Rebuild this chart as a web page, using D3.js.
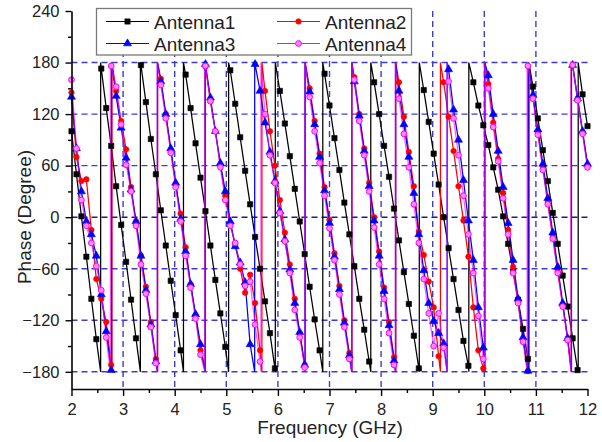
<!DOCTYPE html>
<html><head><meta charset="utf-8">
<script src="https://cdn.jsdelivr.net/npm/d3@7"></script>
<style>
body{margin:0;background:#fff}
svg{display:block}
text{font-family:"Liberation Sans",Arial,Helvetica,sans-serif}
</style>
</head><body>
<svg id="chart" width="602" height="442"></svg>
<script>
// ---------------- data ----------------
const freqs = [
  2.000, 2.096, 2.192, 2.288, 2.385, 2.481, 2.577, 2.673, 2.769, 2.865,
  2.962, 3.058, 3.154, 3.250, 3.346, 3.442, 3.538, 3.635, 3.731, 3.827,
  3.923, 4.019, 4.115, 4.212, 4.308, 4.404, 4.500, 4.596, 4.692, 4.788,
  4.885, 4.981, 5.077, 5.173, 5.269, 5.365, 5.462, 5.558, 5.654, 5.750,
  5.846, 5.942, 6.038, 6.135, 6.231, 6.327, 6.423, 6.519, 6.615, 6.712,
  6.808, 6.904, 7.000, 7.096, 7.192, 7.288, 7.385, 7.481, 7.577, 7.673,
  7.769, 7.865, 7.962, 8.058, 8.154, 8.250, 8.346, 8.442, 8.538, 8.635,
  8.731, 8.827, 8.923, 9.019, 9.115, 9.212, 9.308, 9.404, 9.500, 9.596,
  9.692, 9.788, 9.885, 9.981, 10.077, 10.173, 10.269, 10.365, 10.462, 10.558,
  10.654, 10.750, 10.846, 10.942, 11.038, 11.135, 11.231, 11.327, 11.423, 11.519,
  11.615, 11.712, 11.808, 11.904, 12.000
];

const antenna1 = [
  100, 50, 1, -46, -95, -142,
  173, 127, 83, 36, -9, -52, -96, -141,
  177, 134, 91, 50, 8, -33, -74, -114, -155,
  166, 127, 86, 46, 7, -33, -73, -112, -151,
  171, 132, 93, 54, 15, -23, -60, -98, -135, -176,
  147, 109, 71, 33, -5, -43, -81, -119, -155,
  167, 130, 92, 55, 17, -20, -57, -95, -131, -168,
  157, 120, 83, 47, 10, -27, -64, -101, -138, -176,
  148, 111, 74, 38, 0, -36, -72, -108, -144, -173,
  157, 130, 107, 84, 58, 32, 1, -31, -63, -96, -130, -165,
  152, 115, 78, 42, 5, -31, -68, -104, -141, -178,
  143, 106
];
const antenna1Wraps = [2.565, 3.335, 4.17, 5.045, 5.95, 6.87, 7.80, 8.74, 9.70, 10.865, 11.82];

const antenna2 = [
  145, 70, 42, 44, -15, -72, -95, -122, -172,
  147, 112, 79, 35, -5, -45, -81, -122, -165,
  161, 120, 78, 38, 4, -35, -78, -115, -155,
  175, 135, 100, 60, 25, -8, -32, -60, -88, -67, -100, -155,
  147, 100, 60, 20, -18, -55, -95, -135, -172,
  150, 112, 74, 35, -3, -42, -80, -120, -158,
  163, 120, 80, 40, 0, -40, -82, -122, -163,
  157, 117, 76, 36, -17, -44, -75, -105, -162,
  157, 117, 77, 36, -4, -46, -105, -155, -176,
  155, 110, 68, 28, -15, -58, -98, -143, -179,
  140, 98, 57, 17, -23, -63, -102, -141,
  177, 138, 99, 60
];
const antenna2Wraps = [2.785, 3.67, 4.59, 5.69, 6.53, 7.435, 8.285, 9.15, 10.01, 10.855, 11.685];

const antenna3 = [
  140, 80, 30, -5, -20, -45, -90, -133, -178,
  141, 104, 69, 32, -5, -45, -85, -125, -168,
  158, 120, 80, 40, -2, -40, -78, -113, -148,
  178, 139, 100, 63, 30, -5, -34, -53, -76, -148,
  178, 147, 110, 76, 42, 7, -26, -61, -100, -134, -172,
  146, 108, 70, 31, -7, -46, -84, -123, -161,
  158, 118, 77, 36, -4, -45, -86, -126, -167,
  147, 108, 70, 28, -20, -62, -100, -121, -135, -147,
  172, 125, 90, 43, -4, -50, -105, -152,
  165, 120, 77, 35, -7, -50, -95, -140, -179,
  142, 102, 62, 22, -18, -58, -100, -141,
  177, 138, 100, 62
];
const antenna3Wraps = [2.775, 3.665, 4.59, 5.55, 6.525, 7.43, 8.28, 9.28, 10.01, 10.85, 11.69];

const antenna4 = [
  160, 80, 20, -10, -30, -57, -85, -140,
  176, 152, 108, 61, 30, -10, -55, -89, -128, -170,
  154, 115, 75, 35, -5, -45, -82, -118, -160,
  176, 135, 100, 58, 20, -10, -30, -55, -80, -75, -125, -168,
  120, 72, 40, 5, -28, -65, -108, -140, -175,
  140, 100, 63, 25, -13, -50, -90, -128, -165,
  160, 112, 72, 30, -12, -55, -95, -135, -172,
  138, 97, 58, 15, -30, -72, -112, -150, -112, -152,
  158, 115, 72, 25, -20, -65, -115, -165,
  150, 105, 65, 22, -20, -65, -100, -145,
  176, 138, 96, 55, 15, -25, -65, -104, -143,
  177, 136, 97, 58
];
const antenna4Wraps = [2.755, 3.66, 4.585, 5.67, 6.525, 7.43, 8.275, 9.28, 10.0, 10.83, 11.68];

const seriesNames = ["Antenna1", "Antenna2", "Antenna3", "Antenna4"];
const xTicks = [2, 3, 4, 5, 6, 7, 8, 9, 10, 11, 12];
const xMinorTicks = [2.5, 3.5, 4.5, 5.5, 6.5, 7.5, 8.5, 9.5, 10.5, 11.5];
const yTicks = [240, 180, 120, 60, 0, -60, -120, -180];
const yMinorTicks = [210, 150, 90, 30, -30, -90, -150];
const xGrid = [3, 4, 5, 6, 7, 8, 9, 10, 11];
const yGrid = [180, 120, 60, 0, -60, -120, -180];
const xTitle = "Frequency (GHz)";
const yTitle = "Phase (Degree)";

// ---------------- chart ----------------
const svg = d3.select("#chart");
const x = d3.scaleLinear().domain([2, 12]).range([71.5, 587.5]);
const y = d3.scaleLinear().domain([-200, 240]).range([389, 11]);

const styles = [
  {name: seriesNames[0], vals: antenna1, wraps: antenna1Wraps, color: "#000000", sym: d3.symbolSquare, size: 28, fill: "#000000", op: 1},
  {name: seriesNames[1], vals: antenna2, wraps: antenna2Wraps, color: "#ff0000", sym: d3.symbolCircle, size: 24, fill: "#ff0000", op: 1},
  {name: seriesNames[2], vals: antenna3, wraps: antenna3Wraps, color: "#0000ff", sym: d3.symbolTriangle, size: 28, fill: "#0000ff", op: 1},
  {name: seriesNames[3], vals: antenna4, wraps: antenna4Wraps, color: "#ff00ff", sym: d3.symbolCircle, size: 26, fill: "#ff88ff", op: 0.65}
];

// grid
const grid = svg.append("g").attr("stroke", "#3c3cd2").attr("stroke-width", 1.4)
  .attr("stroke-dasharray", "6,4").attr("fill", "none");
grid.selectAll("line.h").data(yGrid).join("line")
  .attr("x1", x(2)).attr("x2", x(12))
  .attr("y1", d => y(d)).attr("y2", d => y(d))
  .attr("stroke", d => d === 0 ? "#1c1c8c" : null);
grid.selectAll("line.v").data(xGrid).join("line")
  .attr("class", "v")
  .attr("x1", d => x(d)).attr("x2", d => x(d))
  .attr("y1", y(240)).attr("y2", y(-200));

// series
function linePoints(vals, wraps) {
  const pts = [];
  let wi = 0;
  freqs.forEach((f, i) => {
    while (wi < wraps.length && wraps[wi] <= f) {
      if (i > 0) { pts.push([wraps[wi], -180]); pts.push([wraps[wi], 180]); }
      wi++;
    }
    pts.push([f, vals[i]]);
  });
  return pts;
}
const line = d3.line().x(d => x(d[0])).y(d => y(d[1]));

const plot = svg.append("g");
styles.forEach(s => {
  plot.append("path")
    .datum(linePoints(s.vals, s.wraps))
    .attr("d", line)
    .attr("fill", "none")
    .attr("stroke", s.color)
    .attr("stroke-width", 1.25)
    .attr("stroke-opacity", s.op);
});
styles.forEach(s => {
  plot.append("g").selectAll("path").data(s.vals).join("path")
    .attr("transform", (d, i) => `translate(${x(freqs[i])},${y(d)})`)
    .attr("d", d3.symbol().type(s.sym).size(s.size))
    .attr("fill", s.fill)
    .attr("stroke", s.color)
    .attr("stroke-width", s.name === "Antenna4" ? 1 : 0.6);
});

// axes
svg.append("g").attr("transform", `translate(0,${y(-200)})`)
  .call(d3.axisBottom(x).tickValues(xTicks).tickSize(7).tickPadding(7).tickSizeOuter(0).tickFormat(d3.format("d")));
svg.append("g").attr("transform", `translate(0,${y(-200)})`)
  .call(d3.axisBottom(x).tickValues(xMinorTicks).tickSize(4).tickSizeOuter(0).tickFormat(""))
  .select(".domain").remove();
svg.append("g").attr("transform", `translate(${x(2)},0)`)
  .call(d3.axisLeft(y).tickValues(yTicks).tickSize(6).tickPadding(6).tickSizeOuter(0).tickFormat(d3.format("d")));
svg.append("g").attr("transform", `translate(${x(2)},0)`)
  .call(d3.axisLeft(y).tickValues(yMinorTicks).tickSize(3.5).tickSizeOuter(0).tickFormat(""))
  .select(".domain").remove();

svg.selectAll(".domain").attr("stroke", "#000").attr("stroke-width", 1.6);
svg.selectAll(".tick line").attr("stroke", "#000").attr("stroke-width", 1.4);
svg.selectAll(".tick text").attr("font-size", 16.5).attr("fill", "#222")
  .attr("font-family", "'Liberation Sans', Arial, sans-serif");

// titles
svg.append("text").attr("x", 330).attr("y", 434).attr("text-anchor", "middle")
  .attr("font-size", 19).attr("fill", "#222").text(xTitle);
svg.append("text").attr("transform", `translate(31,217) rotate(-90)`)
  .attr("text-anchor", "middle").attr("font-size", 19).attr("fill", "#222").text(yTitle);

// legend
const lg = svg.append("g");
lg.append("rect").attr("x", 96.5).attr("y", 8.5).attr("width", 315).attr("height", 46.5)
  .attr("fill", "#fff").attr("stroke", "#7a7a7a").attr("stroke-width", 1.3);
const legendPos = [
  {lx: 106, ly: 21.5}, {lx: 277, ly: 21.5}, {lx: 106, ly: 43.5}, {lx: 277, ly: 43.5}
];
styles.forEach((s, i) => {
  const p = legendPos[i];
  lg.append("line").attr("x1", p.lx).attr("x2", p.lx + 43).attr("y1", p.ly).attr("y2", p.ly)
    .attr("stroke", s.color).attr("stroke-width", 1.2);
  lg.append("path").attr("transform", `translate(${p.lx + 21.5},${p.ly})`)
    .attr("d", d3.symbol().type(s.sym).size(s.size)())
    .attr("fill", s.fill).attr("stroke", s.color).attr("stroke-width", s.name === "Antenna4" ? 1 : 0.6);
  lg.append("text").attr("x", p.lx + 48).attr("y", p.ly + 7)
    .attr("font-size", 19).attr("fill", "#222").text(s.name);
});
</script>
</body></html>
